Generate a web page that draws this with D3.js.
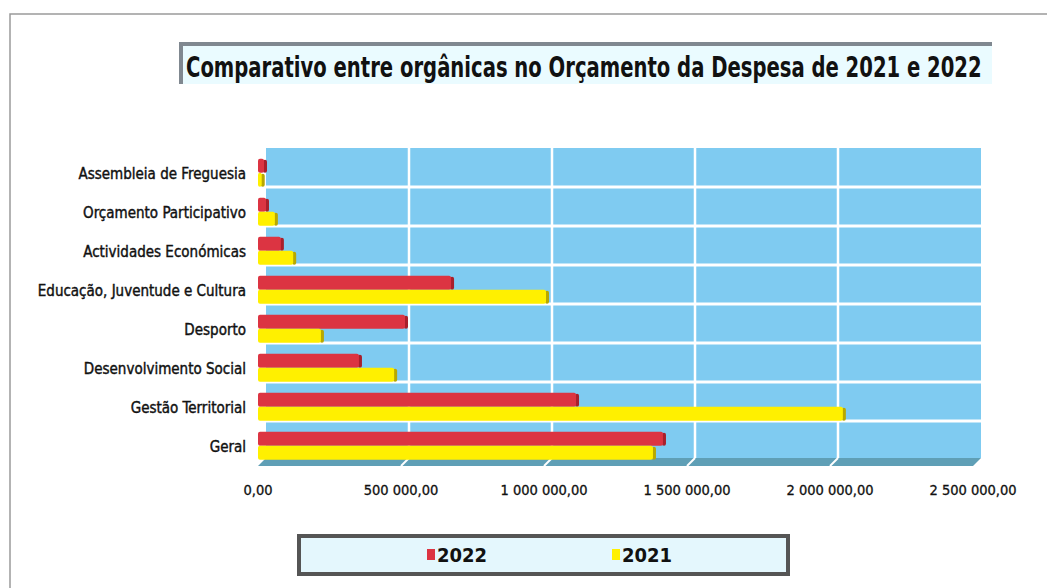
<!DOCTYPE html>
<html>
<head>
<meta charset="utf-8">
<title>Comparativo entre orgânicas</title>
<script src="https://cdn.jsdelivr.net/npm/d3@7"></script>
<style>
  body { margin:0; background:#fff; }
  svg text { font-family:"DejaVu Sans Condensed","DejaVu Sans",sans-serif; font-stretch:condensed; }
</style>
</head>
<body>
<div id="chart"></div>
<script>
// data
var categories = ['Assembleia de Freguesia', 'Orçamento Participativo', 'Actividades Económicas',
  'Educação, Juventude e Cultura', 'Desporto', 'Desenvolvimento Social', 'Gestão Territorial', 'Geral'];
var values2022 = [28000, 35000, 87000, 682000, 521000, 360000, 1119000, 1423000];
var values2021 = [20000, 66000, 130000, 1014000, 227000, 483000, 2052000, 1388000];
var series = ['2022', '2021'];
var colors = {'2022':'#dc3442', '2021':'#fff000'};
var sideColors = {'2022':'#a8202c', '2021':'#b8a800'};
var xTicks = [0, 500000, 1000000, 1500000, 2000000, 2500000];

var width = 1047, height = 588;
var depthX = 8, depthY = 6;

var svg = d3.select('#chart').append('svg')
  .attr('width', width).attr('height', height);

// outer frame
svg.append('path').attr('d', 'M10,588 L10,14 L1047,14')
  .attr('fill', 'none').attr('stroke', '#9a9a9a').attr('stroke-width', 1.5);

// title box
svg.append('rect').attr('x', 181).attr('y', 44).attr('width', 811).attr('height', 40)
  .attr('fill', '#eafbff');
svg.append('path').attr('d', 'M181,84 L181,44 L992,44')
  .attr('fill', 'none').attr('stroke', '#808890').attr('stroke-width', 4);
var title = svg.append('text')
  .attr('font-size', 29).attr('font-weight', 'bold').attr('fill', '#111')
  .text('Comparativo entre orgânicas no Orçamento da Despesa de 2021 e 2022');
// squeeze the title horizontally so it fills the box
var tw = title.node().getComputedTextLength();
title.attr('transform', 'translate(186,77) scale(' + (796 / tw) + ',1)');

// scales (front plane)
var x = d3.scaleLinear().domain([0, 2500000]).range([258, 973]);
var y = d3.scaleBand().domain(categories).range([154, 466]).paddingInner(0).paddingOuter(0);
var ys = d3.scaleBand().domain(series).range([y.bandwidth() * 0.12, y.bandwidth() * 0.84]);

var wall = svg.append('g').attr('transform', 'translate(' + depthX + ',' + (-depthY) + ')');

// back wall
wall.append('rect').attr('x', x(0)).attr('y', y.range()[0])
  .attr('width', x(2500000) - x(0)).attr('height', y.range()[1] - y.range()[0] - 2)
  .attr('fill', '#7fcbf1');

wall.selectAll('.vgrid').data(xTicks.slice(1, -1)).enter().append('line')
  .attr('x1', function(d) { return x(d); }).attr('x2', function(d) { return x(d); })
  .attr('y1', y.range()[0]).attr('y2', y.range()[1] - 2)
  .attr('stroke', '#fff').attr('stroke-width', 2.5);

wall.selectAll('.hgrid').data(categories.slice(1)).enter().append('line')
  .attr('x1', x(0)).attr('x2', x(2500000))
  .attr('y1', function(d) { return y(d); }).attr('y2', function(d) { return y(d); })
  .attr('stroke', '#fff').attr('stroke-width', 3);

// floor
var fy0 = y.range()[1] - 2 - depthY, fy1 = y.range()[1];
svg.append('path')
  .attr('d', 'M' + (x(0) + depthX) + ',' + fy0 + ' L' + (x(2500000) + depthX) + ',' + fy0 +
    ' L' + x(2500000) + ',' + fy1 + ' L' + x(0) + ',' + fy1 + 'Z')
  .attr('fill', '#5f9fb6');
svg.selectAll('.fgrid').data(xTicks.slice(1, -1)).enter().append('line')
  .attr('x1', function(d) { return x(d) + depthX; }).attr('x2', function(d) { return x(d); })
  .attr('y1', fy0).attr('y2', fy1)
  .attr('stroke', '#fff').attr('stroke-width', 2);

// bars
var rows = categories.map(function(c, i) {
  return {cat:c, vals:[{s:'2022', v:values2022[i]}, {s:'2021', v:values2021[i]}]};
});

var g = svg.selectAll('.row').data(rows).enter().append('g')
  .attr('transform', function(d) { return 'translate(0,' + y(d.cat) + ')'; });

g.selectAll('.side').data(function(d) { return d.vals; }).enter().append('rect')
  .attr('x', function(d) { return x(d.v) - 3; })
  .attr('y', function(d) { return ys(d.s) + 1; })
  .attr('width', 4).attr('height', ys.bandwidth() - 1)
  .attr('rx', 2)
  .attr('fill', function(d) { return sideColors[d.s]; });

g.selectAll('.bar').data(function(d) { return d.vals; }).enter().append('rect')
  .attr('x', x(0))
  .attr('y', function(d) { return ys(d.s); })
  .attr('width', function(d) { return Math.max(0, x(d.v) - x(0) - 2); })
  .attr('height', ys.bandwidth())
  .attr('rx', 2)
  .attr('fill', function(d) { return colors[d.s]; });

// category labels
svg.selectAll('.cat').data(categories).enter().append('text')
  .attr('x', 246)
  .attr('y', function(d) { return y(d) + y.bandwidth() / 2 + 1; })
  .attr('text-anchor', 'end').attr('dominant-baseline', 'middle')
  .attr('font-size', 15).attr('fill', '#111')
  .attr('stroke', '#111').attr('stroke-width', 0.4)
  .text(function(d) { return d; });

// x axis labels
var fmt = function(v) {
  return d3.format(',.2f')(v).replace(/,/g, ' ').replace('.', ',');
};
svg.selectAll('.xt').data(xTicks).enter().append('text')
  .attr('x', function(d) { return x(d); })
  .attr('y', 495)
  .attr('text-anchor', 'middle')
  .attr('font-size', 14.5).attr('fill', '#111')
  .attr('stroke', '#111').attr('stroke-width', 0.3)
  .text(fmt);

// legend
var leg = svg.append('g');
leg.append('rect').attr('x', 299).attr('y', 536).attr('width', 489).attr('height', 38)
  .attr('fill', '#e4f7fd').attr('stroke', '#555').attr('stroke-width', 4);
var legX = d3.scalePoint().domain(series).range([427, 612]);
leg.selectAll('.lsq').data(series).enter().append('rect')
  .attr('x', function(d) { return legX(d); }).attr('y', 549)
  .attr('width', 8).attr('height', 11)
  .attr('fill', function(d) { return colors[d]; });
leg.selectAll('.ltx').data(series).enter().append('text')
  .attr('x', function(d) { return legX(d) + 10; }).attr('y', 562)
  .attr('font-size', 20).attr('font-weight', 'bold').attr('fill', '#111')
  .text(function(d) { return d; });
</script>
</body>
</html>
